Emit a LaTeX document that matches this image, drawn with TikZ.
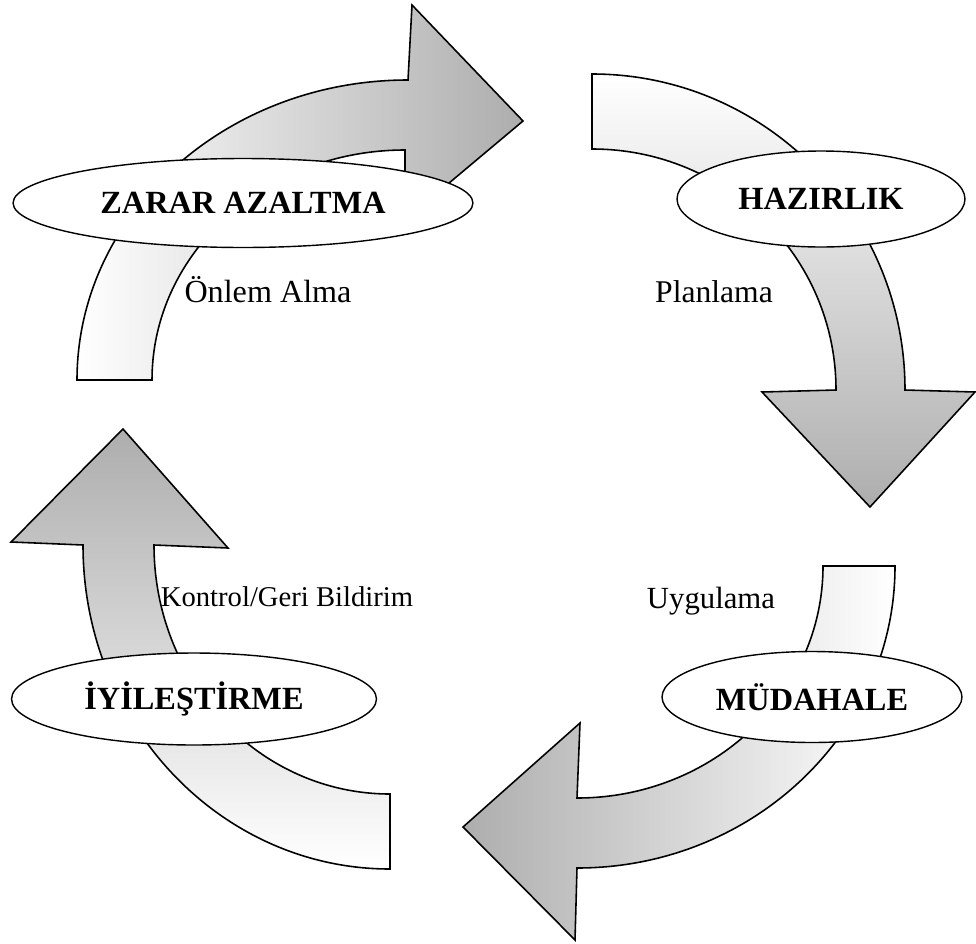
\documentclass[tikz,border=0pt]{standalone}
\usepackage{fontspec}
\setmainfont{Liberation Serif}
\usetikzlibrary{shapes.geometric, positioning}

\begin{document}
\begin{tikzpicture}[x=0.02cm, y=-0.02cm,
    phase/.style={ellipse, draw, fill=white, line width=0.8pt, inner sep=0pt, font=\fontsize{18.4}{20}\selectfont\bfseries},
    curl/.style={draw, line width=0.9pt, line join=miter},
    note/.style={anchor=base, inner sep=0pt}]

    \useasboundingbox (0,0) rectangle (976,943);

    % curved arrows
    \path [curl, left color=white, right color=black!32]
        (77,380) arc[start angle=180, end angle=270, x radius=331, y radius=300]
        -- (412,5) -- (523,121) -- (405,220) -- (405,150)
        arc[start angle=270, end angle=180, x radius=253, y radius=230] -- cycle;
    \path [curl, top color=white, bottom color=black!32]
        (592,74) arc[start angle=270, end angle=360, x radius=313, y radius=316]
        -- (975,392) -- (870,507) -- (762,392) -- (836,390)
        arc[start angle=0, end angle=-90, x radius=244, y radius=241] -- cycle;
    \path [curl, right color=white, left color=black!32]
        (895,566) arc[start angle=0, end angle=90, x radius=318, y radius=302]
        -- (575,940) -- (463,827) -- (580,723) -- (577,798)
        arc[start angle=90, end angle=0, x radius=246, y radius=232] -- cycle;
    \path [curl, bottom color=white, top color=black!32]
        (390,869) arc[start angle=90, end angle=180, x radius=307, y radius=324]
        -- (11,542) -- (123,429) -- (228,548) -- (154,545)
        arc[start angle=180, end angle=90, x radius=236, y radius=249] -- cycle;

    % phases
    \node [phase, minimum width=9.2cm, minimum height=1.78cm] (zarar) at (243,203) {ZARAR AZALTMA};
    \node [phase, minimum width=5.76cm, minimum height=1.92cm] (hazirlik) at (821,199) {HAZIRLIK};
    \node [phase, minimum width=6.0cm, minimum height=1.82cm] (mudahale) at (812,697) {MÜDAHALE};
    \node [phase, minimum width=7.3cm, minimum height=1.84cm] (iyilestirme) at (194,699) {İYİLEŞTİRME};

    % labels
    \node [note, font=\fontsize{18.3}{21}\selectfont] (onlem) at (268,302) {Önlem Alma};
    \node [note, font=\fontsize{18}{20}\selectfont] (planlama) at (714,302) {Planlama};
    \node [note, font=\fontsize{17.5}{20}\selectfont] (uygulama) at (711,608) {Uygulama};
    \node [note, font=\fontsize{16.3}{19}\selectfont] (kontrol) at (287,606) {Kontrol/Geri Bildirim};
\end{tikzpicture}
\end{document}
